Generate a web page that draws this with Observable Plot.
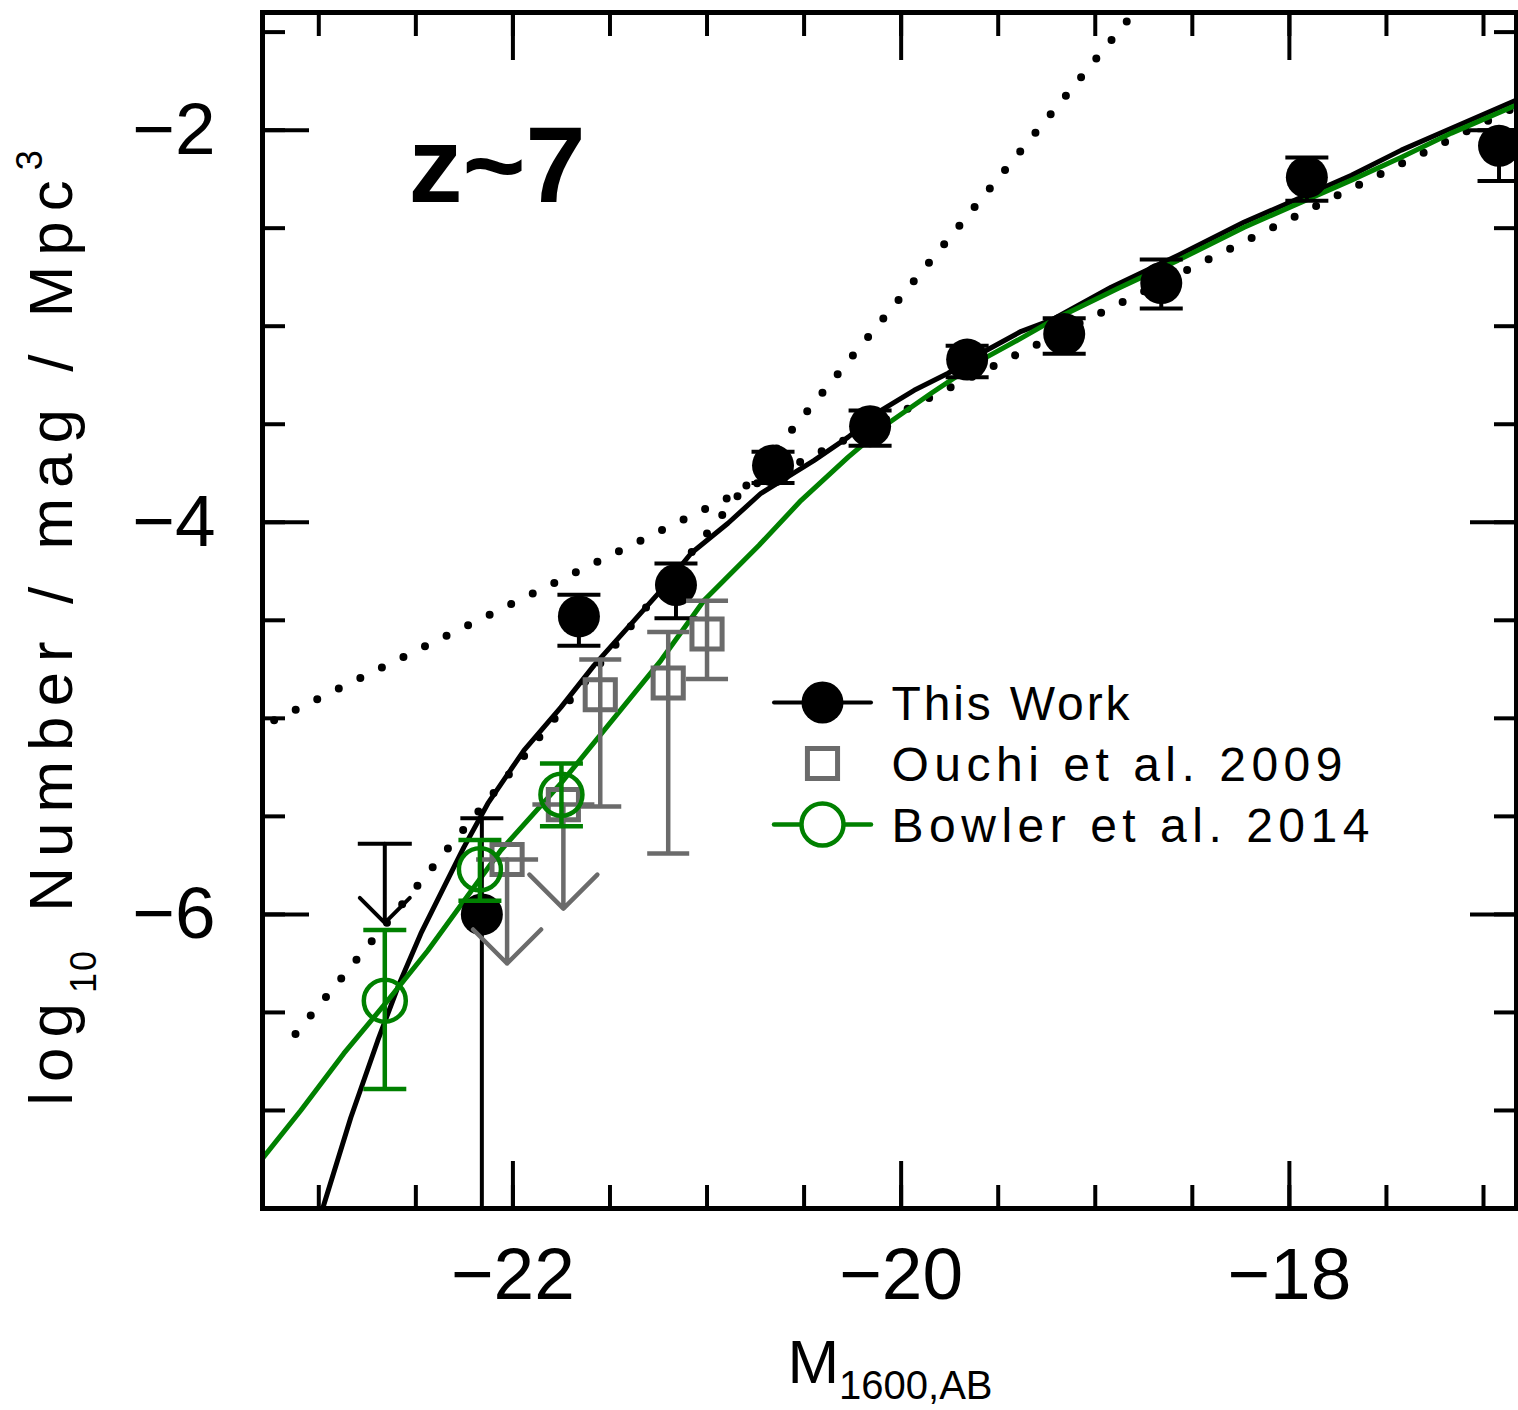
<!DOCTYPE html>
<html>
<head>
<meta charset="utf-8">
<script src="https://cdn.jsdelivr.net/npm/d3@7"></script>
<script src="https://cdn.jsdelivr.net/npm/@observablehq/plot@0.6"></script>
<style>
  html, body { margin: 0; padding: 0; background: #ffffff; }
  #chart { width: 1518px; height: 1410px; }
</style>
</head>
<body>
<div id="chart"></div>
<script>
// ---------------- data ----------------
// This Work (black filled circles)
const thisM   = [-22.16, -21.66, -21.16, -20.66, -20.16, -19.66, -19.16, -18.66, -17.91, -16.92];
const thisPhi = [-6.00, -4.48, -4.32, -3.71, -3.51, -3.17, -3.04, -2.78, -2.24, -2.08];
const thisHi  = [-5.51, -4.37, -4.21, -3.64, -3.43, -3.10, -2.96, -2.66, -2.14, -2.00];
const thisLo  = [-9.00, -4.63, -4.49, -3.80, -3.61, -3.26, -3.14, -2.91, -2.36, -2.26];
const thisLimM   = [-22.66];
const thisLimPhi = [-5.64];

// Ouchi et al. 2009 (grey open squares)
const ouchiM   = [-21.55, -21.20, -21.00];
const ouchiPhi = [-4.88, -4.82, -4.57];
const ouchiHi  = [-4.70, -4.56, -4.40];
const ouchiLo  = [-5.45, -5.69, -4.80];
const ouchiLimM   = [-22.03, -21.74];
const ouchiLimPhi = [-5.72, -5.44];

// Bowler et al. 2014 (green open circles)
const bowlerM   = [-22.66, -22.17, -21.75];
const bowlerPhi = [-6.44, -5.77, -5.39];
const bowlerHi  = [-6.08, -5.62, -5.23];
const bowlerLo  = [-6.89, -5.93, -5.55];

// This Work fit curve (black solid)
const fitM   = [-22.98, -22.835, -22.696, -22.593, -22.474, -22.356, -22.253, -22.129, -21.943, -21.753, -21.582, -21.407, -21.237, -21.082, -20.892, -20.722, -20.448, -20.273, -20.103, -19.933, -19.758, -19.588, -19.381, -19.227, -18.918, -18.572, -18.232, -17.938, -17.680, -17.423, -17.165, -16.83];
const fitPhi = [-7.50, -7.036, -6.643, -6.372, -6.097, -5.862, -5.658, -5.434, -5.163, -4.944, -4.730, -4.536, -4.347, -4.158, -4.005, -3.852, -3.684, -3.566, -3.429, -3.327, -3.240, -3.138, -3.026, -2.969, -2.801, -2.638, -2.469, -2.342, -2.230, -2.102, -1.990, -1.847];

// Bowler et al. 2014 fit curve (green solid)
const bfitM   = [-23.29, -23.093, -22.871, -22.644, -22.438, -22.201, -22.062, -21.753, -21.237, -21.015, -20.912, -20.732, -20.515, -20.273, -20.067, -19.845, -19.588, -19.381, -19.227, -18.881, -18.572, -18.232, -17.938, -17.680, -17.423, -17.165, -16.83];
const bfitPhi = [-7.245, -7.000, -6.709, -6.439, -6.184, -5.862, -5.673, -5.332, -4.704, -4.398, -4.296, -4.117, -3.888, -3.668, -3.495, -3.342, -3.173, -3.061, -2.974, -2.806, -2.663, -2.495, -2.367, -2.255, -2.138, -2.015, -1.872];

// dotted power-law lines
const dotUpperM   = [-23.23, -20.82, -18.80];
const dotUpperPhi = [-5.01, -3.84, -1.40];
const dotLowerM   = [-23.12, -20.82, -16.83];
const dotLowerPhi = [-6.61, -3.84, -1.88];

// axes
const xDomain = [-23.29, -16.83];
const yDomain = [-7.5, -1.4];
const xMajor = [-22, -20, -18];
const xMinor = [-23, -22.5, -22, -21.5, -21, -20.5, -20, -19.5, -19, -18.5, -18, -17.5, -17];
const yMajor = [-2, -4, -6];
const yMinor = [-7, -6.5, -6, -5.5, -5, -4.5, -4, -3.5, -3, -2.5, -2, -1.5];

const legendLabels = ["This Work", "Ouchi et al. 2009", "Bowler et al. 2014"];
const panelLabel = "z~7";

// ---------------- build tables ----------------
const rows = (m, p, hi, lo) => m.map((v, i) => ({m: v, phi: p[i], hi: hi ? hi[i] : null, lo: lo ? lo[i] : null}));
const thisWork = rows(thisM, thisPhi, thisHi, thisLo);
const thisLim = rows(thisLimM, thisLimPhi);
const ouchi = rows(ouchiM, ouchiPhi, ouchiHi, ouchiLo);
const ouchiLim = rows(ouchiLimM, ouchiLimPhi);
const bowler = rows(bowlerM, bowlerPhi, bowlerHi, bowlerLo);
const fit = rows(fitM, fitPhi);
const bfit = rows(bfitM, bfitPhi);
const dotUpper = rows(dotUpperM, dotUpperPhi);
const dotLower = rows(dotLowerM, dotLowerPhi);

const GREEN = "#008000", GREY = "#6b6b6b";

// custom symbols / shapes
const capSym = {draw(ctx, size) { const w = Math.sqrt(size / Math.PI); ctx.moveTo(-w, 0); ctx.lineTo(w, 0); }};
const arrowShape = (w) => ({draw(ctx, l) { ctx.moveTo(0, 0); ctx.lineTo(0, -l); ctx.moveTo(-w, -l + w); ctx.lineTo(0, -l); ctx.lineTo(w, -l + w); }});
const barShape = {draw(ctx, l) { ctx.moveTo(0, 0); ctx.lineTo(0, -l); }};

const FONT = "'Liberation Sans', Arial, Helvetica, sans-serif";

const legendX = 560, legendTextX = 629, legendY0 = 690, legendDY = 61;

const marks = [
  // dotted lines
  Plot.line(dotUpper, {x: "m", y: "phi", stroke: "black", strokeWidth: 8, strokeDasharray: "0,24", strokeLinecap: "round", clip: true}),
  Plot.line(dotLower, {x: "m", y: "phi", stroke: "black", strokeWidth: 8, strokeDasharray: "0,24", strokeLinecap: "round", clip: true}),
  // fit curves
  Plot.line(fit, {x: "m", y: "phi", stroke: "black", strokeWidth: 5, clip: true, strokeLinejoin: "round"}),
  Plot.line(bfit, {x: "m", y: "phi", stroke: GREEN, strokeWidth: 5, clip: true, strokeLinejoin: "round"}),

  // This Work
  Plot.ruleX(thisWork, {x: "m", y1: "lo", y2: "hi", stroke: "black", strokeWidth: 4, clip: true}),
  Plot.dot(thisWork, {x: "m", y: "hi", symbol: capSym, r: 21.5, stroke: "black", strokeWidth: 4}),
  Plot.dot(thisWork, {x: "m", y: "lo", symbol: capSym, r: 21.5, stroke: "black", strokeWidth: 4, clip: true}),
  Plot.dot(thisWork, {x: "m", y: "phi", r: 21, fill: "black"}),
  Plot.dot(thisLim, {x: "m", y: "phi", symbol: capSym, r: 27, stroke: "black", strokeWidth: 4}),
  Plot.vector(thisLim, {x: "m", y: "phi", length: 79, rotate: 180, anchor: "start", shape: arrowShape(25), stroke: "black", strokeWidth: 4}),

  // Ouchi
  Plot.ruleX(ouchi, {x: "m", y1: "lo", y2: "hi", stroke: GREY, strokeWidth: 4.5}),
  Plot.dot(ouchi, {x: "m", y: "hi", symbol: capSym, r: 21, stroke: GREY, strokeWidth: 4.5}),
  Plot.dot(ouchi, {x: "m", y: "lo", symbol: capSym, r: 21, stroke: GREY, strokeWidth: 4.5}),
  Plot.dot(ouchi, {x: "m", y: "phi", symbol: "square", r: 17, stroke: GREY, strokeWidth: 5, fill: "none"}),
  Plot.dot(ouchiLim, {x: "m", y: "phi", symbol: capSym, r: 31, stroke: GREY, strokeWidth: 4.5}),
  Plot.dot(ouchiLim, {x: "m", y: "phi", symbol: "square", r: 17, stroke: GREY, strokeWidth: 5, fill: "none"}),
  Plot.vector(ouchiLim, {x: "m", y: "phi", length: 104, rotate: 180, anchor: "start", shape: arrowShape(34), stroke: GREY, strokeWidth: 4.5}),

  // Bowler
  Plot.ruleX(bowler, {x: "m", y1: "lo", y2: "hi", stroke: GREEN, strokeWidth: 4.5}),
  Plot.dot(bowler, {x: "m", y: "hi", symbol: capSym, r: 21.5, stroke: GREEN, strokeWidth: 4.5}),
  Plot.dot(bowler, {x: "m", y: "lo", symbol: capSym, r: 21.5, stroke: GREEN, strokeWidth: 4.5}),
  Plot.dot(bowler, {x: "m", y: "phi", r: 21, stroke: GREEN, strokeWidth: 4.5, fill: "none"}),

  // panel label
  Plot.text([panelLabel], {frameAnchor: "top-left", dx: 146, dy: 113, textAnchor: "start", lineAnchor: "top", fontSize: 108, fontWeight: "bold", fill: "black"}),

  // legend symbols
  Plot.vector([0], {frameAnchor: "top-left", dx: legendX, dy: legendY0, length: 97, rotate: 90, anchor: "middle", shape: barShape, stroke: "black", strokeWidth: 4}),
  Plot.dot([0], {frameAnchor: "top-left", dx: legendX, dy: legendY0, r: 21, fill: "black"}),
  Plot.dot([0], {frameAnchor: "top-left", dx: legendX, dy: legendY0 + legendDY, symbol: "square", r: 17, stroke: GREY, strokeWidth: 5, fill: "none"}),
  Plot.vector([0], {frameAnchor: "top-left", dx: legendX, dy: legendY0 + 2 * legendDY, length: 97, rotate: 90, anchor: "middle", shape: barShape, stroke: GREEN, strokeWidth: 4.5}),
  Plot.dot([0], {frameAnchor: "top-left", dx: legendX, dy: legendY0 + 2 * legendDY, r: 21, stroke: GREEN, strokeWidth: 4.5, fill: "white"}),
  ...legendLabels.map((t, i) => Plot.text([t], {frameAnchor: "top-left", dx: legendTextX, dy: legendY0 + 2 + i * legendDY, textAnchor: "start", lineAnchor: "middle", fontSize: 48, fill: "black"})),

  // axes: inward ticks on all four sides
  Plot.axisX({anchor: "bottom", ticks: xMinor, tickSize: -23, strokeWidth: 4, fill: "none", label: null}),
  Plot.axisX({anchor: "bottom", ticks: xMajor, tickSize: -47, strokeWidth: 4, fill: "none", label: null}),
  Plot.axisX({anchor: "top", ticks: xMinor, tickSize: -23, strokeWidth: 4, fill: "none", label: null}),
  Plot.axisX({anchor: "top", ticks: xMajor, tickSize: -47, strokeWidth: 4, fill: "none", label: null}),
  Plot.axisY({anchor: "left", ticks: yMinor, tickSize: -23, strokeWidth: 4, fill: "none", label: null}),
  Plot.axisY({anchor: "left", ticks: yMajor, tickSize: -47, strokeWidth: 4, fill: "none", label: null}),
  Plot.axisY({anchor: "right", ticks: yMinor, tickSize: -23, strokeWidth: 4, fill: "none", label: null}),
  Plot.axisY({anchor: "right", ticks: yMajor, tickSize: -47, strokeWidth: 4, fill: "none", label: null}),
  // tick labels
  Plot.axisX({anchor: "bottom", ticks: xMajor, tickSize: 0, tickPadding: 39, fontSize: 73, tickFormat: d3.format("d"), label: null, fill: "black"}),
  Plot.axisY({anchor: "left", ticks: yMajor, tickSize: 0, tickPadding: 47, fontSize: 73, tickFormat: d3.format("d"), label: null, fill: "black"}),

  Plot.frame({stroke: "black", strokeWidth: 5})
];

const svg = Plot.plot({
  width: 1518,
  height: 1410,
  marginLeft: 262,
  marginRight: 2,
  marginTop: 12,
  marginBottom: 202,
  x: {domain: xDomain, axis: null},
  y: {domain: yDomain, axis: null},
  style: {fontFamily: FONT, background: "white", color: "black", overflow: "visible"},
  marks
});

const root = d3.select(svg);
// legend text widths as in the reference
const legendLengths = [238, 451, 478];
root.selectAll("text").each(function() {
  const i = legendLabels.indexOf(this.textContent);
  if (i >= 0) d3.select(this).attr("textLength", legendLengths[i]).attr("lengthAdjust", "spacing");
});

// y-axis title with subscript / superscript
const yl = root.append("text")
  .attr("transform", "translate(72,628) rotate(-90)")
  .attr("text-anchor", "middle")
  .attr("font-family", FONT)
  .attr("font-size", 62)
  .attr("fill", "black")
  .style("letter-spacing", "10px");
yl.append("tspan").text("log");
yl.append("tspan").attr("font-size", 36).attr("dy", 24).style("letter-spacing", "2px").text("10");
yl.append("tspan").attr("dy", -24).attr("dx", 10).text(" Number / mag / Mpc");
yl.append("tspan").attr("font-size", 36).attr("dy", -30).style("letter-spacing", "0px").text("3");

// x-axis title with subscript
const xl = root.append("text")
  .attr("x", 890).attr("y", 1383)
  .attr("text-anchor", "middle")
  .attr("font-family", FONT)
  .attr("font-size", 62)
  .attr("fill", "black");
xl.append("tspan").text("M");
xl.append("tspan").attr("font-size", 40).attr("dy", 16).text("1600,AB");

document.getElementById("chart").appendChild(svg);
</script>
</body>
</html>
